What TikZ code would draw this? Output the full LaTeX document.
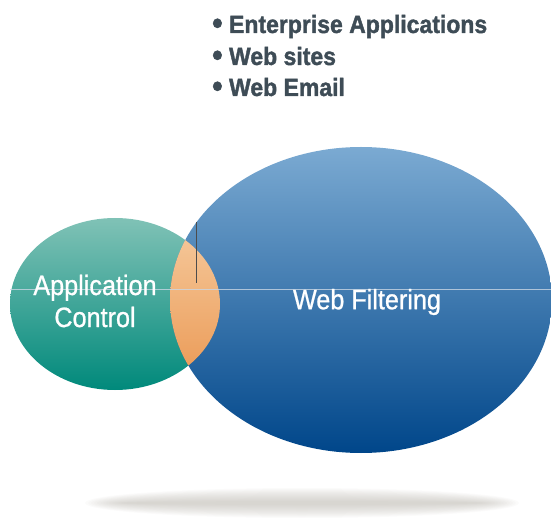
\documentclass[tikz,border=0pt]{standalone}
\usepackage{fontspec}
\setmainfont{Liberation Sans}
\newfontfamily\narrowsans{Liberation Sans}[FakeStretch=0.9,FakeBold=0.8]
\newfontfamily\heavysans{Liberation Sans Bold}[FakeStretch=0.92,FakeBold=1.5]
\definecolor{tealtop}{HTML}{80C2B6}
\definecolor{tealbot}{HTML}{00897B}
\definecolor{bluetop}{HTML}{7BAAD2}
\definecolor{bluemid}{HTML}{5574A8}
\definecolor{bluebot}{HTML}{00468A}
\definecolor{peachtop}{HTML}{F6CCA0}
\definecolor{peachbot}{HTML}{EA9650}
\definecolor{slate}{HTML}{3E4C56}
\definecolor{shadowgray}{HTML}{B8B4AC}
\definecolor{guideline}{HTML}{C9D6E3}
\tikzset{
  label text/.style={text=white, inner sep=0pt, font=\narrowsans\fontsize{28}{32}\selectfont, align=center},
  bullet text/.style={text=slate, inner sep=0pt, anchor=base west, font=\heavysans\fontsize{25}{32}\selectfont},
}
\newcommand{\bigdot}{\raisebox{-1pt}{\scalebox{1.3}{\textbullet}}\ }
\begin{document}
\begin{tikzpicture}[x=1pt,y=-1pt]
\useasboundingbox (0,0) rectangle (551,518);

% soft ground shadow
\foreach \i in {0,...,13}
  \fill[shadowgray, opacity=0.055] (302,503) ellipse ({217pt-\i*3pt} and {15pt-\i*1pt});

% the two sets
\shade[top color=tealtop, bottom color=tealbot] (115,304) ellipse (105pt and 86pt);
\shade[top color=bluetop, middle color=bluemid, bottom color=bluebot] (361,300) ellipse (191pt and 153pt);

% overlap lens
\begin{scope}
  \clip (115,304) ellipse (105pt and 86pt);
  \clip (361,300) ellipse (191pt and 153pt);
  \shade[top color=peachtop, bottom color=peachbot] (160,216) rectangle (232,392);
\end{scope}

% thin guide strokes
\draw[guideline, line width=0.6pt, opacity=0.8] (10,289) -- (551,289);
\draw[gray!60!black, line width=0.8pt] (196,222) -- (196,283);

% set labels
\node[label text] (appctl) at (95,301) {Application\\Control};
\node[label text] (webfilt) at (367,302) {Web Filtering};

% bullet list
\node[bullet text] (b1) at (212,33) {\bigdot Enterprise Applications};
\node[bullet text] (b2) at (212,65) {\bigdot Web sites};
\node[bullet text] (b3) at (212,96) {\bigdot Web Email};
\end{tikzpicture}
\end{document}
